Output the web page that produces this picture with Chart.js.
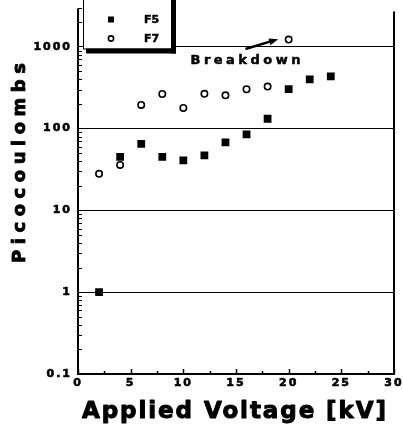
<!DOCTYPE html>
<html>
<head>
<meta charset="utf-8">
<script src="https://cdn.jsdelivr.net/npm/chart.js@4/dist/chart.umd.min.js"></script>
<style>
html,body{margin:0;padding:0;background:#fff;}
#wrap{width:403px;height:425px;}
</style>
</head>
<body>
<div id="wrap"><canvas id="c" width="403" height="425"></canvas></div>
<script>
// ---- data ----
const voltageF5 = [2, 4, 6, 8, 10, 12, 14, 16, 18, 20, 22, 24];
const chargeF5  = [1, 45, 65, 45, 41, 47, 68, 85, 132, 303, 400, 435];
const voltageF7 = [2, 4, 6, 8, 10, 12, 14, 16, 18, 20];
const chargeF7  = [28, 36, 195, 265, 179, 266, 255, 303, 327, 1225];
const seriesNames = ['F5', 'F7'];
const yTickValues = [0.1, 1, 10, 100, 1000];
const yTickLabels = ['0.1', '1', '10', '100', '1000'];
const xTickLabels = ['0', '5', '10', '15', '20', '25', '30'];
const xTitle = 'Applied Voltage [kV]';
const yTitle = 'Picocoulombs';
const annotationText = 'Breakdown';
const annotationAt = {x: 15.9, y: 680};
const arrowFrom = {x: 15.9, y: 940};
const arrowTo = {x: 19.0, y: 1240};

const FONT = '"DejaVu Sans", "Liberation Sans", sans-serif';

function spacedText(ctx, text, x, y, font, targetWidth, align, stroke) {
  ctx.save();
  ctx.font = font;
  ctx.letterSpacing = '0px';
  const w = ctx.measureText(text).width;
  const sp = text.length > 1 ? Math.max(0, (targetWidth - w) / (text.length - 1)) : 0;
  ctx.letterSpacing = sp + 'px';
  const total = w + sp * (text.length - 1);
  let sx = x;
  if (align === 'center') sx = x - total / 2;
  ctx.textAlign = 'left';
  ctx.fillText(text, sx, y);
  if (stroke) {
    ctx.strokeStyle = '#000';
    ctx.lineWidth = stroke;
    ctx.lineJoin = 'round';
    ctx.strokeText(text, sx, y);
  }
  ctx.restore();
}

const deco = {
  id: 'deco',
  beforeDraw(chart) {
    chart.ctx.letterSpacing = '2px';
  },
  beforeDatasetsDraw(chart) {
    const ctx = chart.ctx;
    ctx.letterSpacing = '0px';
    const a = chart.chartArea;
    const xs = chart.scales.x, ys = chart.scales.y;
    ctx.save();
    ctx.strokeStyle = '#000';
    ctx.lineWidth = 2;
    ctx.beginPath();
    ctx.moveTo(a.left, a.top + 3); ctx.lineTo(a.left, a.bottom + 1);
    ctx.moveTo(a.left - 1, a.bottom); ctx.lineTo(a.right + 1, a.bottom);
    ctx.moveTo(a.right, a.top + 6); ctx.lineTo(a.right, a.bottom + 1);
    ctx.stroke();
    // y minor ticks
    ctx.lineWidth = 1.2;
    ctx.beginPath();
    yTickValues.forEach(d => {
      for (let m = 2; m <= 9; m++) {
        const v = d * m;
        if (v > ys.max) break;
        const py = Math.round(ys.getPixelForValue(v)) + 0.5;
        ctx.moveTo(a.left, py); ctx.lineTo(a.left + 4, py);
      }
    });
    ctx.stroke();
    // x ticks (inside)
    ctx.lineWidth = 1.5;
    ctx.beginPath();
    for (let v = 0; v <= 30; v += 2.5) {
      const px = Math.round(xs.getPixelForValue(v)) + 0.5;
      const len = (v % 5 === 0) ? 5 : 3;
      ctx.moveTo(px, a.bottom); ctx.lineTo(px, a.bottom - len);
    }
    ctx.stroke();
    ctx.restore();
  },
  afterDatasetsDraw(chart) {
    const ctx = chart.ctx;
    const a = chart.chartArea;
    const xs = chart.scales.x, ys = chart.scales.y;
    ctx.save();
    ctx.letterSpacing = '0px';
    ctx.fillStyle = '#000';
    // legend box with shadow
    const bl = a.left + 5, br = a.left + 93, bt = -6, bb = a.top + 43;
    ctx.fillStyle = '#fff';
    ctx.fillRect(bl, bt, br - bl, bb - bt);
    ctx.strokeStyle = '#000';
    ctx.lineWidth = 1;
    ctx.strokeRect(bl + 0.5, bt + 0.5, br - bl, bb - bt);
    ctx.fillStyle = '#000';
    ctx.fillRect(br, bt, 5, bb - bt + 5);
    ctx.fillRect(bl + 3, bb, br - bl + 2, 5);
    // legend items
    chart.data.datasets.forEach((ds, i) => {
      const my = a.top + 14 + i * 19;
      ctx.strokeStyle = ds.borderColor;
      ctx.lineWidth = ds.borderWidth;
      ctx.beginPath();
      if (ds.pointStyle === 'rect') {
        ctx.fillStyle = '#000';
        ctx.fillRect(a.left + 30, my - 3, 6, 6);
      } else {
        ctx.fillStyle = '#fff';
        ctx.arc(a.left + 33, my, 2.6, 0, Math.PI * 2);
        ctx.fill(); ctx.stroke();
      }
      ctx.fillStyle = '#000';
      ctx.textBaseline = 'middle';
      spacedText(ctx, ds.label, a.left + 66, my + 1, 'bold 11px ' + FONT, 15, 'left', 0.5);
    });
    // breakdown annotation
    ctx.textBaseline = 'middle';
    spacedText(ctx, annotationText, xs.getPixelForValue(annotationAt.x), ys.getPixelForValue(annotationAt.y),
      'bold 13px ' + FONT, 110, 'center', 0.5);
    const x0 = xs.getPixelForValue(arrowFrom.x), y0 = ys.getPixelForValue(arrowFrom.y);
    const x1 = xs.getPixelForValue(arrowTo.x), y1 = ys.getPixelForValue(arrowTo.y);
    const ang = Math.atan2(y1 - y0, x1 - x0);
    ctx.strokeStyle = '#000';
    ctx.lineWidth = 2.5;
    ctx.beginPath();
    ctx.moveTo(x0, y0);
    ctx.lineTo(x1 - 6 * Math.cos(ang), y1 - 6 * Math.sin(ang));
    ctx.stroke();
    ctx.beginPath();
    ctx.moveTo(x1, y1);
    ctx.lineTo(x1 - 9 * Math.cos(ang) + 3.5 * Math.sin(ang), y1 - 9 * Math.sin(ang) - 3.5 * Math.cos(ang));
    ctx.lineTo(x1 - 9 * Math.cos(ang) - 3.5 * Math.sin(ang), y1 - 9 * Math.sin(ang) + 3.5 * Math.cos(ang));
    ctx.closePath();
    ctx.fill();
    // axis titles
    ctx.textBaseline = 'alphabetic';
    spacedText(ctx, xTitle, (a.left + a.right) / 2 - 2, 418, 'bold 23px ' + FONT, 304, 'center', 1);
    ctx.save();
    ctx.translate(25, 163);
    ctx.rotate(-Math.PI / 2);
    spacedText(ctx, yTitle, 0, 0, 'bold 18px ' + FONT, 200, 'center', 0.9);
    ctx.restore();
    ctx.restore();
  }
};

new Chart(document.getElementById('c'), {
  type: 'scatter',
  data: {
    datasets: [
      {
        label: seriesNames[0],
        data: voltageF5.map((v, i) => ({x: v, y: chargeF5[i]})),
        pointStyle: 'rect', pointRadius: 5.5, pointHoverRadius: 5.5,
        backgroundColor: '#000', borderColor: '#000', borderWidth: 0
      },
      {
        label: seriesNames[1],
        data: voltageF7.map((v, i) => ({x: v, y: chargeF7[i]})),
        pointStyle: 'circle', pointRadius: 3.2, pointHoverRadius: 3.2,
        backgroundColor: '#fff', borderColor: '#000', borderWidth: 1.6
      }
    ]
  },
  options: {
    responsive: false,
    animation: false,
    devicePixelRatio: 1,
    layout: {padding: {top: 1, right: 9, left: 0, bottom: 0}},
    plugins: {legend: {display: false}, tooltip: {enabled: false}, title: {display: false}},
    scales: {
      x: {
        type: 'linear', min: 0, max: 30,
        afterBuildTicks: s => { s.ticks = xTickLabels.map(t => ({value: Number(t)})); },
        ticks: {
          callback: (v) => xTickLabels.find(t => Number(t) === v) ?? '',
          color: '#000', font: {family: FONT, size: 11, weight: 'bold'}, padding: 3,
          maxRotation: 0, autoSkip: false, textStrokeColor: '#000', textStrokeWidth: 0.6
        },
        grid: {display: false, drawTicks: false},
        border: {display: false},
        afterFit: s => { s.height = 51; s.paddingLeft = 0; s.paddingRight = 0; }
      },
      y: {
        type: 'logarithmic', min: 0.1, max: 3200,
        afterBuildTicks: s => { s.ticks = yTickValues.map(v => ({value: v, major: true})); },
        ticks: {
          callback: (v) => { const i = yTickValues.indexOf(v); return i >= 0 ? yTickLabels[i] : ''; },
          color: '#000', font: {family: FONT, size: 11, weight: 'bold'}, padding: 6,
          autoSkip: false, textStrokeColor: '#000', textStrokeWidth: 0.6
        },
        grid: {display: true, color: '#000', lineWidth: 1, drawTicks: false},
        border: {display: false},
        afterFit: s => { s.width = 78; s.paddingTop = 0; s.paddingBottom = 0; }
      }
    }
  },
  plugins: [deco]
});
</script>
</body>
</html>
